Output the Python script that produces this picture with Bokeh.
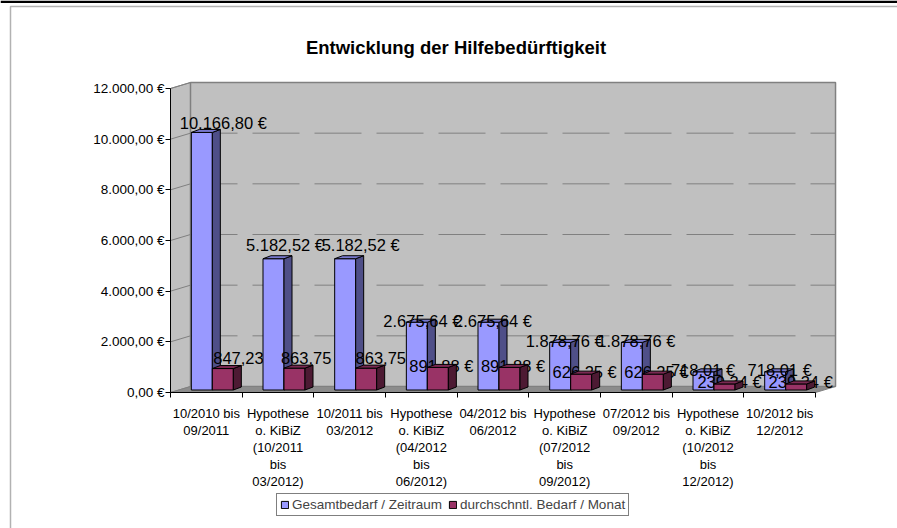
from bokeh.plotting import figure
from bokeh.models import (Range1d, LinearAxis, FixedTicker, Label, Legend,
                          LegendItem, BoxAnnotation, Span)
from bokeh.core.properties import value
from bokeh.embed import file_html
from bokeh.resources import INLINE

# ---------------- data ----------------
categories = [
    "10/2010 bis\n09/2011",
    "Hypothese\no. KiBiZ\n(10/2011\nbis\n03/2012)",
    "10/2011 bis\n03/2012",
    "Hypothese\no. KiBiZ\n(04/2012\nbis\n06/2012)",
    "04/2012 bis\n06/2012",
    "Hypothese\no. KiBiZ\n(07/2012\nbis\n09/2012)",
    "07/2012 bis\n09/2012",
    "Hypothese\no. KiBiZ\n(10/2012\nbis\n12/2012)",
    "10/2012 bis\n12/2012",
]
gesamtbedarf = [10166.80, 5182.52, 5182.52, 2675.64, 2675.64, 1878.76, 1878.76, 718.01, 718.01]
monatsbedarf = [847.23, 863.75, 863.75, 891.88, 891.88, 626.25, 626.25, 239.34, 239.34]
y_ticks = [0, 2000, 4000, 6000, 8000, 10000, 12000]
series_names = ["Gesamtbedarf / Zeitraum", "durchschntl. Bedarf / Monat"]
title_text = "Entwicklung der Hilfebedürftigkeit"

# ---------------- layout / style ----------------
FONT = "Liberation Sans"
W, H = 897, 528
N = len(categories)
X0_PX, Y0_PX = 170, 392       # canvas position of the chart origin
PX_X = 71.67                  # pixels per category
PX_Y = 304.0 / 12000.0        # pixels per euro
YMAX = y_ticks[-1]


def ux(px):
    return px / PX_X


def uy(px):
    return px / PX_Y


WALL_DX, WALL_DY = ux(20), uy(6)        # depth of the chart box
BAR_SX, BAR_SY = ux(6), uy(2.5)         # plane of the bars
BAR_DX, BAR_DY = ux(8), uy(3)           # depth of a bar
BAR_W = ux(21)

# label nudges (pixels) relative to category center / bar top
blue_dx_px = [17, 7, 11, 1, 0, 0, 0, -5, 0]
blue_dy_px = [-9, -14, -14, -1, -1, -1.5, -1.5, -2, -2]
red_dx_px = [39, 35, 38, 20, 20, 20, 20, 21.5, 21]
red_dy_px = [-10.5, -10.5, -10.5, -1, -1, -2.5, -2.5, -2, -2]

BLUE = ("#9999FF", "#4F4F88", "#7777CC")
RED = ("#993366", "#4D1A33", "#7A2952")


def de(v, euro=True):
    s = f"{v:,.2f}".replace(",", "X").replace(".", ",").replace("X", ".")
    return s + " €" if euro else s


p = figure(width=W, height=H,
           x_range=Range1d(-ux(X0_PX), ux(W - X0_PX)),
           y_range=Range1d(-uy(H - Y0_PX), uy(Y0_PX)),
           output_backend="svg", toolbar_location=None, title=None,
           x_axis_type=None, y_axis_type=None,
           min_border=0, min_border_left=0, min_border_right=0,
           min_border_top=0, min_border_bottom=0)
p.outline_line_color = None
p.background_fill_color = "white"
p.border_fill_color = "white"

# ---------------- walls & floor ----------------
wall_line = "#808080"
p.patch([0, 0, WALL_DX, WALL_DX], [0, YMAX, YMAX + WALL_DY, WALL_DY],
        fill_color="#C0C0C0", line_color=wall_line, line_width=1)
p.patch([WALL_DX, WALL_DX, N + WALL_DX, N + WALL_DX],
        [WALL_DY, YMAX + WALL_DY, YMAX + WALL_DY, WALL_DY],
        fill_color="#C0C0C0", line_color=wall_line, line_width=1.5)
p.patch([0, N, N + WALL_DX, WALL_DX], [0, 0, WALL_DY, WALL_DY],
        fill_color="#8C8C8C", line_color=wall_line, line_width=1)

grid_vals = [t for t in y_ticks if 0 < t < YMAX]
p.segment(x0=[WALL_DX] * len(grid_vals), y0=[t + WALL_DY for t in grid_vals],
          x1=[N + WALL_DX] * len(grid_vals), y1=[t + WALL_DY for t in grid_vals],
          line_color=wall_line, line_width=1, line_dash="47 15")
side_vals = [t for t in y_ticks if t > 0]
p.segment(x0=[0] * len(side_vals), y0=side_vals,
          x1=[WALL_DX] * len(side_vals), y1=[t + WALL_DY for t in side_vals],
          line_color=wall_line, line_width=1)


# ---------------- 3D bars ----------------
def bar3d(left, val, cols):
    right = left + BAR_W
    b = BAR_SY
    t = val + BAR_SY
    front = p.quad(left=[left], right=[right], bottom=[b], top=[t],
                   fill_color=cols[0], line_color="black", line_width=1)
    p.patch([right, right + BAR_DX, right + BAR_DX, right],
            [b, b + BAR_DY, t + BAR_DY, t],
            fill_color=cols[1], line_color="black", line_width=1)
    p.patch([left, right, right + BAR_DX, left + BAR_DX],
            [t, t, t + BAR_DY, t + BAR_DY],
            fill_color=cols[2], line_color="black", line_width=1)
    return front


legend_renderers = [None, None]
for i in range(N):
    c = i + 0.5
    rb = bar3d(c + BAR_SX - BAR_W, gesamtbedarf[i], BLUE)
    p.text(x=[c + ux(blue_dx_px[i])],
           y=[gesamtbedarf[i] + BAR_SY - uy(blue_dy_px[i])],
           text=[de(gesamtbedarf[i])], text_font=value(FONT),
           text_font_size="16.5px", text_align="center",
           text_baseline="middle", text_color="black")
    p.text(x=[c + ux(red_dx_px[i])],
           y=[monatsbedarf[i] + BAR_SY - uy(red_dy_px[i])],
           text=[de(monatsbedarf[i])], text_font=value(FONT),
           text_font_size="16.5px", text_align="center",
           text_baseline="middle", text_color="black")
    rr = bar3d(c + BAR_SX, monatsbedarf[i], RED)
    if i == 0:
        legend_renderers = [rb, rr]

# ---------------- axes (drawn at the chart origin) ----------------
yaxis = LinearAxis(ticker=FixedTicker(ticks=y_ticks),
                   major_label_overrides={t: de(t) for t in y_ticks},
                   bounds=(0, YMAX), fixed_location=0)
yaxis.major_tick_out = 5
yaxis.major_tick_in = 0
yaxis.minor_tick_out = 0
yaxis.minor_tick_in = 0
yaxis.major_label_standoff = 1
yaxis.axis_line_color = "black"
yaxis.major_tick_line_color = "black"
yaxis.major_label_text_font = FONT
yaxis.major_label_text_font_size = "13.5px"
yaxis.major_label_text_color = "black"
p.add_layout(yaxis, "left")

centers = [i + 0.5 for i in range(N)]
xaxis = LinearAxis(ticker=FixedTicker(ticks=centers, minor_ticks=list(range(N + 1))),
                   major_label_overrides={c: categories[i] for i, c in enumerate(centers)},
                   bounds=(0, N), fixed_location=0)
xaxis.major_tick_out = 0
xaxis.major_tick_in = 0
xaxis.minor_tick_out = 5
xaxis.minor_tick_in = 0
xaxis.minor_tick_line_color = "black"
xaxis.axis_line_color = "black"
xaxis.major_label_standoff = 8
xaxis.major_label_text_font = FONT
xaxis.major_label_text_font_size = "13px"
xaxis.major_label_text_line_height = 1.14
xaxis.major_label_text_color = "black"
xaxis.major_label_text_align = "center"
p.add_layout(xaxis, "below")

# ---------------- title ----------------
p.add_layout(Label(x=455.5, y=H - 46.7, x_units="screen", y_units="screen",
                   text=title_text, text_font=FONT, text_font_size="18.5px",
                   text_font_style="bold", text_align="center",
                   text_baseline="alphabetic", text_color="black"))

# ---------------- legend ----------------
legend = Legend(items=[LegendItem(label=series_names[0], renderers=[legend_renderers[0]]),
                       LegendItem(label=series_names[1], renderers=[legend_renderers[1]])],
                orientation="horizontal", location=(276, H - 516))
legend.border_line_color = "black"
legend.border_line_width = 1
legend.background_fill_color = "white"
legend.background_fill_alpha = 1
legend.label_text_font = FONT
legend.label_text_font_size = "13.5px"
legend.glyph_width = 9
legend.glyph_height = 9
legend.label_standoff = 3
legend.spacing = 6
legend.padding = 3
legend.margin = 0
legend.label_height = 14
p.add_layout(legend, "center")

# ---------------- outer chart border ----------------
p.add_layout(BoxAnnotation(left=10, right=W + 20, top=H - 6, bottom=-20,
                           left_units="screen", right_units="screen",
                           top_units="screen", bottom_units="screen",
                           fill_color=None, fill_alpha=0,
                           line_color="black", line_width=1.5))
p.add_layout(Span(location=H - 1.3, location_units="screen", dimension="width",
                  line_color="black", line_width=2.5))

open("out.html", "w").write(file_html(p, INLINE))
